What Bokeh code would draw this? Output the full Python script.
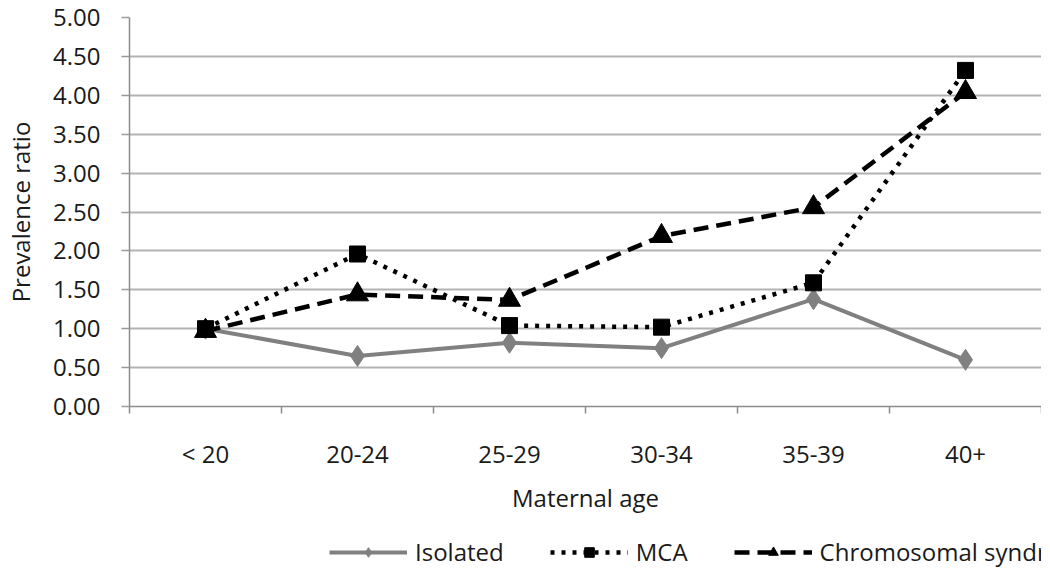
from bokeh.plotting import figure
from bokeh.layouts import column
from bokeh.models import FixedTicker, Legend, LegendItem, Range1d, NumeralTickFormatter
from bokeh.embed import file_html
from bokeh.resources import INLINE

categories = ["< 20", "20-24", "25-29", "30-34", "35-39", "40+"]
isolated = [1.00, 0.65, 0.82, 0.75, 1.38, 0.60]
mca = [1.00, 1.96, 1.04, 1.02, 1.59, 4.32]
chromosomal = [0.97, 1.44, 1.37, 2.19, 2.56, 4.04]
y_ticks = [0.0, 0.5, 1.0, 1.5, 2.0, 2.5, 3.0, 3.5, 4.0, 4.5, 5.0]

FONT = "Open Sans"
TXT = "#1a1a1a"
FS = "24px"
xs = [i + 0.5 for i in range(len(categories))]

STYLES = [
    dict(name="Isolated", data=isolated, color="#808080", width=4, dash="solid", marker="diamond", size=21),
    dict(name="MCA", data=mca, color="black", width=4.5, dash="4 7", marker="square", size=16),
    dict(name="Chromosomal syndromes", data=chromosomal, color="black", width=4.5, dash="15 8", marker="triangle", size=22),
]

# ---------------- main chart ----------------
p = figure(frame_width=912, frame_height=389, output_backend="svg", toolbar_location=None,
           x_range=Range1d(0, len(categories)), y_range=Range1d(0, 5))
p.min_border_left = 129
p.min_border_top = 17
p.min_border_right = 0
p.min_border_bottom = 126
p.outline_line_color = None
p.background_fill_color = "white"
p.border_fill_color = "white"

xa = p.xaxis[0]
xa.ticker = FixedTicker(ticks=xs, minor_ticks=list(range(len(categories) + 1)))
xa.major_label_overrides = {x: c for x, c in zip(xs, categories)}
xa.major_tick_line_color = None
xa.major_tick_out = 0
xa.major_tick_in = 0
xa.minor_tick_out = 7
xa.minor_tick_in = 0
xa.minor_tick_line_color = "#8c8c8c"
xa.minor_tick_line_width = 1.5
xa.axis_line_color = "#8c8c8c"
xa.axis_line_width = 1.5
xa.major_label_standoff = 23
xa.major_label_text_font = FONT
xa.major_label_text_font_size = FS
xa.major_label_text_color = TXT
xa.axis_label = "Maternal age"
xa.axis_label_text_font = FONT
xa.axis_label_text_font_size = FS
xa.axis_label_text_font_style = "normal"
xa.axis_label_text_color = TXT
xa.axis_label_standoff = 8

ya = p.yaxis[0]
ya.ticker = FixedTicker(ticks=y_ticks, minor_ticks=[])
ya.formatter = NumeralTickFormatter(format="0.00")
ya.major_tick_out = 8
ya.major_tick_in = 0
ya.major_tick_line_color = "#9a9a9a"
ya.major_tick_line_width = 1.5
ya.minor_tick_line_color = None
ya.axis_line_color = "#8c8c8c"
ya.axis_line_width = 1.5
ya.major_label_standoff = 21
ya.major_label_text_font = FONT
ya.major_label_text_font_size = FS
ya.major_label_text_color = TXT
ya.axis_label = "Prevalence ratio"
ya.axis_label_text_font = FONT
ya.axis_label_text_font_size = FS
ya.axis_label_text_font_style = "normal"
ya.axis_label_text_color = TXT
ya.axis_label_standoff = 13

p.xgrid.grid_line_color = None
p.ygrid.ticker = FixedTicker(ticks=y_ticks)
p.ygrid.grid_line_color = "#b3b3b3"
p.ygrid.grid_line_width = 2

for s in STYLES:
    p.line(xs, s["data"], line_color=s["color"], line_width=s["width"], line_dash=s["dash"])
    p.scatter(xs, s["data"], marker=s["marker"], size=s["size"],
              fill_color=s["color"], line_color=s["color"])

# ---------------- legend strip (below the chart) ----------------
p2 = figure(width=1041, height=38, output_backend="svg", toolbar_location=None,
            x_range=Range1d(-20, -19), y_range=Range1d(-20, -19),
            x_axis_location=None, y_axis_location=None)
p2.min_border_left = 0
p2.min_border_right = 0
p2.min_border_top = 0
p2.min_border_bottom = 0
p2.outline_line_color = None
p2.grid.visible = False
p2.background_fill_color = "white"
p2.border_fill_color = "white"

items = []
for s in STYLES:
    ln = p2.line(xs, s["data"], line_color=s["color"], line_width=s["width"], line_dash=s["dash"])
    mk = p2.scatter(xs, s["data"], marker=s["marker"], size=s["size"],
                    fill_color=s["color"], line_color=s["color"])
    items.append(LegendItem(label=s["name"], renderers=[ln, mk]))

legend = Legend(items=items, orientation="horizontal", location=(200, 2))
legend.border_line_color = None
legend.background_fill_alpha = 0
legend.glyph_width = 78
legend.glyph_height = 24
legend.label_text_font = FONT
legend.label_text_font_size = FS
legend.label_text_color = TXT
legend.label_standoff = 8
legend.spacing = 46
legend.margin = 0
legend.padding = 0
p2.add_layout(legend, "center")

layout = column(p, p2, spacing=0)
open("out.html", "w").write(file_html(layout, INLINE))
